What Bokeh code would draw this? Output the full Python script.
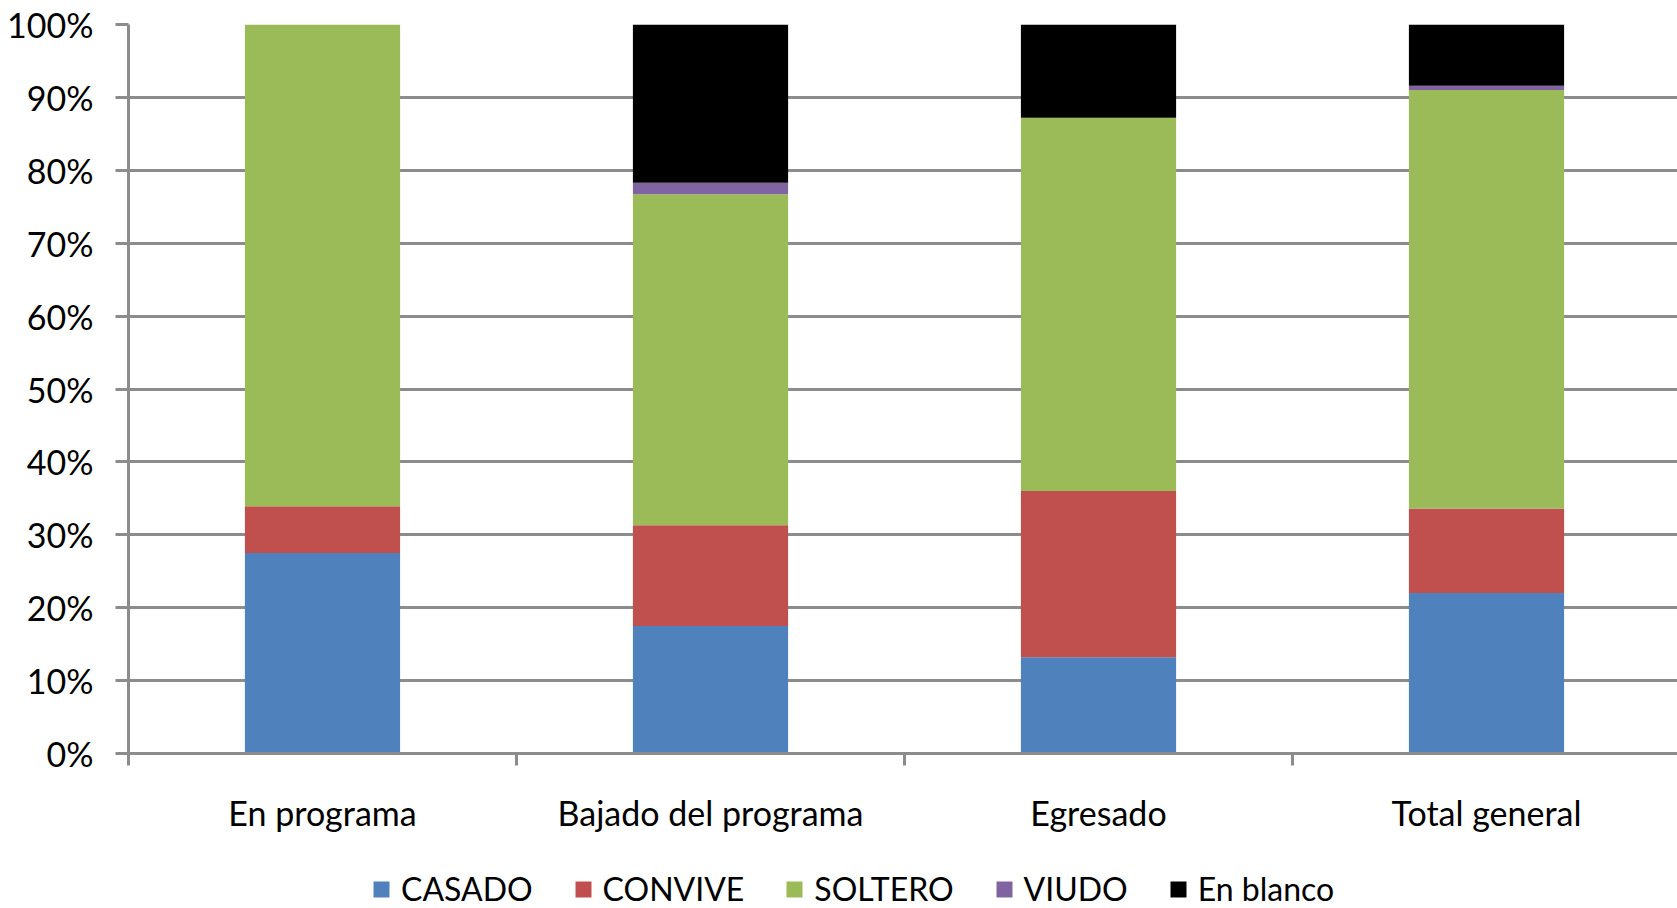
from bokeh.plotting import figure
from bokeh.layouts import column
from bokeh.models import (Range1d, FixedTicker, PrintfTickFormatter, Legend,
                          LegendItem, ColumnDataSource)
from bokeh.embed import file_html
from bokeh.resources import INLINE

categories = ["En programa", "Bajado del programa", "Egresado", "Total general"]
series = ["CASADO", "CONVIVE", "SOLTERO", "VIUDO", "En blanco"]
casado = [27.5, 17.5, 13.2, 22.0]
convive = [6.4, 13.8, 22.8, 11.6]
soltero = [66.1, 45.4, 51.2, 57.4]
viudo = [0.0, 1.6, 0.0, 0.6]
en_blanco = [0.0, 21.7, 12.8, 8.4]
colors = ["#4F81BD", "#C0504D", "#9BBB59", "#8064A2", "#000000"]
y_ticks = list(range(0, 101, 10))

FONT = "Lato"
FS = "34px"
GRAY = "#8c8c8c"

centers = [i + 0.5 for i in range(len(categories))]
source = ColumnDataSource(dict(x=centers, CASADO=casado, CONVIVE=convive,
                               SOLTERO=soltero, VIUDO=viudo, **{"En blanco": en_blanco}))

p = figure(width=1677, height=840, output_backend="svg", toolbar_location=None,
           x_range=Range1d(0, 1549 / 388), y_range=Range1d(0, 100),
           min_border_left=128, min_border_right=0, min_border_top=24, min_border_bottom=87)
p.outline_line_color = None
p.background_fill_color = "white"
p.border_fill_color = "white"

renderers = p.vbar_stack(series, x="x", width=0.4, color=colors, line_color=None, source=source)

# y axis
p.yaxis.ticker = FixedTicker(ticks=y_ticks)
p.yaxis.formatter = PrintfTickFormatter(format="%d%%")
p.yaxis.axis_line_color = GRAY
p.yaxis.axis_line_width = 3
p.yaxis.major_tick_out = 13
p.yaxis.major_tick_in = 0
p.yaxis.minor_tick_out = 0
p.yaxis.minor_tick_in = 0
p.yaxis.major_tick_line_color = GRAY
p.yaxis.major_tick_line_width = 3
p.yaxis.major_label_standoff = 22
p.yaxis.major_label_text_font = FONT
p.yaxis.major_label_text_font_size = FS
p.yaxis.major_label_text_color = "black"

# x axis
p.xaxis.ticker = FixedTicker(ticks=centers, minor_ticks=[0, 1, 2, 3])
p.xaxis.major_label_overrides = {c: cat for c, cat in zip(centers, categories)}
p.xaxis.axis_line_color = GRAY
p.xaxis.axis_line_width = 3
p.xaxis.major_tick_out = 0
p.xaxis.major_tick_in = 0
p.xaxis.minor_tick_out = 12
p.xaxis.minor_tick_in = 0
p.xaxis.minor_tick_line_color = GRAY
p.xaxis.minor_tick_line_width = 3
p.xaxis.major_label_standoff = 26
p.xaxis.major_label_text_font = FONT
p.xaxis.major_label_text_font_size = FS
p.xaxis.major_label_text_color = "black"

# grid
p.xgrid.grid_line_color = None
p.ygrid.ticker = FixedTicker(ticks=y_ticks)
p.ygrid.grid_line_color = GRAY
p.ygrid.grid_line_width = 3

# legend strip below the chart (same stacked series, out of view, used only for legend swatches)
p2 = figure(width=1677, height=68, output_backend="svg", toolbar_location=None,
            x_range=Range1d(100, 101), y_range=Range1d(200, 201),
            x_axis_location=None, y_axis_location=None, min_border=0)
p2.outline_line_color = None
p2.grid.visible = False
legend_renderers = p2.vbar_stack(series, x="x", width=0.4, color=colors, line_color=None, source=source)
legend = Legend(items=[LegendItem(label=s, renderers=[r]) for s, r in zip(series, legend_renderers)],
                orientation="horizontal", location=(243, 0),
                border_line_color=None, background_fill_alpha=0,
                padding=0, margin=0, spacing=40, label_standoff=10,
                glyph_width=20, glyph_height=20, label_height=20,
                label_text_font=FONT, label_text_font_size="32px", label_text_color="black")
p2.add_layout(legend)

open("out.html", "w").write(file_html(column(p, p2, spacing=0), INLINE))
